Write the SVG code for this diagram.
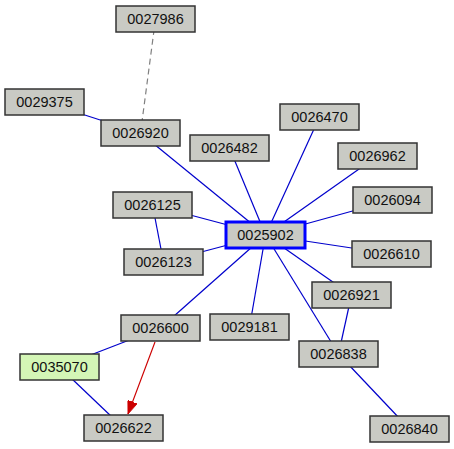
<svg xmlns="http://www.w3.org/2000/svg" width="454" height="449" viewBox="0 0 454 449">
<style>
.n rect{fill:#c9cac4;stroke:#333;stroke-width:1.5}
.n text{font-family:"Liberation Sans",Arial,sans-serif;font-size:14.5px;fill:#111;text-anchor:middle}
.g rect{fill:#d4f6b6}
.c rect{stroke:#0000ff;stroke-width:3}
.e line{stroke:#0000cc;stroke-width:1.2;fill:none}
.e .d{stroke:#808080;stroke-dasharray:6,4}
.e .r{stroke:#cc0000}
</style>
<defs>
<marker id="ah" markerWidth="13" markerHeight="10" refX="13" refY="5" orient="auto" markerUnits="userSpaceOnUse" viewBox="0 0 13 10">
<path d="M0,0L13,5L0,10z" fill="#cc0000" stroke="#cc0000" stroke-width="0.8"/>
</marker>
</defs>
<rect width="454" height="449" fill="#fff"/>
<g id="edges" class="e">
<line class="d" x1="155.5" y1="19" x2="140.5" y2="133"/>
<line x1="44.5" y1="102" x2="140.5" y2="133"/>
<line x1="140.5" y1="133" x2="265.5" y2="235"/>
<line x1="152.5" y1="205" x2="265.5" y2="235"/>
<line x1="152.5" y1="205" x2="163.5" y2="262"/>
<line x1="163.5" y1="262" x2="265.5" y2="235"/>
<line x1="229.5" y1="148" x2="265.5" y2="235"/>
<line x1="319.5" y1="117" x2="265.5" y2="235"/>
<line x1="377.5" y1="156" x2="265.5" y2="235"/>
<line x1="392.5" y1="200" x2="265.5" y2="235"/>
<line x1="391.5" y1="254" x2="265.5" y2="235"/>
<line x1="351.5" y1="295" x2="265.5" y2="235"/>
<line x1="338.5" y1="354" x2="265.5" y2="235"/>
<line x1="249.5" y1="327" x2="265.5" y2="235"/>
<line x1="160.5" y1="328" x2="265.5" y2="235"/>
<line x1="351.5" y1="295" x2="338.5" y2="354"/>
<line x1="338.5" y1="354" x2="409.5" y2="429"/>
<line x1="160.5" y1="328" x2="59.5" y2="367"/>
<line x1="59.5" y1="367" x2="123.5" y2="428"/>
<line class="r" x1="155" y1="342" x2="128" y2="414" marker-end="url(#ah)"/>
</g>
<g id="n0027986" class="n"><rect x="116" y="6" width="79" height="26"/><text x="155.5" y="24">0027986</text></g>
<g id="n0029375" class="n"><rect x="5" y="89" width="79" height="26"/><text x="44.5" y="107">0029375</text></g>
<g id="n0026920" class="n"><rect x="101" y="120" width="79" height="26"/><text x="140.5" y="138">0026920</text></g>
<g id="n0026470" class="n"><rect x="280" y="104" width="79" height="26"/><text x="319.5" y="122">0026470</text></g>
<g id="n0026482" class="n"><rect x="190" y="135" width="79" height="26"/><text x="229.5" y="153">0026482</text></g>
<g id="n0026962" class="n"><rect x="338" y="143" width="79" height="26"/><text x="377.5" y="161">0026962</text></g>
<g id="n0026094" class="n"><rect x="353" y="187" width="79" height="26"/><text x="392.5" y="205">0026094</text></g>
<g id="n0026125" class="n"><rect x="113" y="192" width="79" height="26"/><text x="152.5" y="210">0026125</text></g>
<g id="n0025902" class="n c"><rect x="226" y="222" width="79" height="26"/><text x="265.5" y="240">0025902</text></g>
<g id="n0026610" class="n"><rect x="352" y="241" width="79" height="26"/><text x="391.5" y="259">0026610</text></g>
<g id="n0026123" class="n"><rect x="124" y="249" width="79" height="26"/><text x="163.5" y="267">0026123</text></g>
<g id="n0026921" class="n"><rect x="312" y="282" width="79" height="26"/><text x="351.5" y="300">0026921</text></g>
<g id="n0029181" class="n"><rect x="210" y="314" width="79" height="26"/><text x="249.5" y="332">0029181</text></g>
<g id="n0026600" class="n"><rect x="121" y="315" width="79" height="26"/><text x="160.5" y="333">0026600</text></g>
<g id="n0026838" class="n"><rect x="299" y="341" width="79" height="26"/><text x="338.5" y="359">0026838</text></g>
<g id="n0035070" class="n g"><rect x="20" y="354" width="79" height="26"/><text x="59.5" y="372">0035070</text></g>
<g id="n0026622" class="n"><rect x="84" y="415" width="79" height="26"/><text x="123.5" y="433">0026622</text></g>
<g id="n0026840" class="n"><rect x="370" y="416" width="79" height="26"/><text x="409.5" y="434">0026840</text></g>
</svg>
